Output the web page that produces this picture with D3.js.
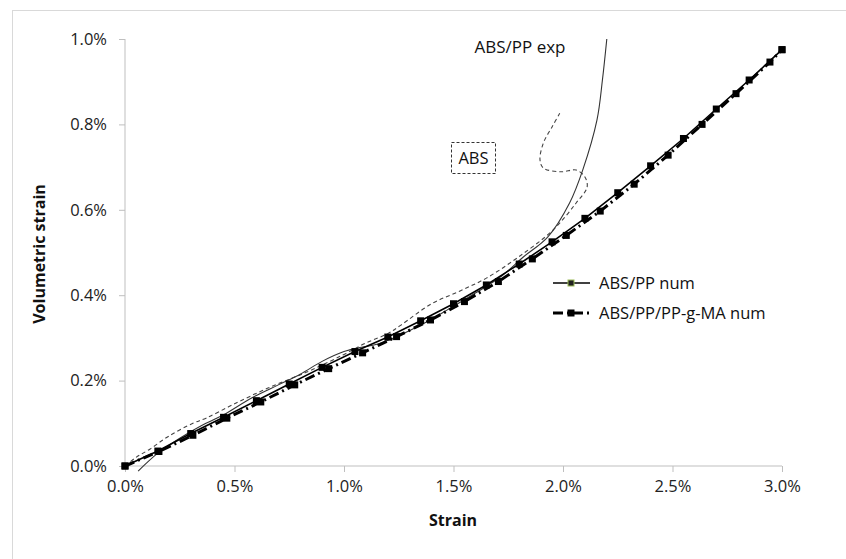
<!DOCTYPE html>
<html><head><meta charset="utf-8">
<script src="https://cdn.jsdelivr.net/npm/d3@7/dist/d3.min.js"></script>
<style>body{margin:0;background:#fff}svg{display:block}text{font-family:"Open Sans","Noto Sans",sans-serif}</style>
</head><body><svg id="c" width="846" height="559"></svg>
<script>
const xTicks = [0, 0.5, 1.0, 1.5, 2.0, 2.5, 3.0];
const yTicks = [0, 0.2, 0.4, 0.6, 0.8, 1.0];

const numX = [0,0.15,0.30,0.45,0.60,0.75,0.90,1.05,1.20,1.35,1.50,1.65,1.80,1.95,2.10,2.25,2.40,2.55,2.70,2.85,3.00];
const numY = [0,0.035,0.076,0.114,0.153,0.192,0.231,0.268,0.302,0.340,0.380,0.424,0.473,0.525,0.580,0.640,0.703,0.767,0.836,0.904,0.975];

const maX = [0,0.155,0.31,0.465,0.62,0.775,0.93,1.085,1.24,1.395,1.55,1.705,1.86,2.015,2.17,2.325,2.48,2.635,2.79,2.945,3.0];
const maY = [0,0.034,0.072,0.112,0.150,0.190,0.228,0.265,0.303,0.342,0.385,0.432,0.485,0.540,0.597,0.660,0.728,0.800,0.872,0.946,0.975];

const expX = [0.06,0.15,0.25,0.35,0.45,0.58,0.70,0.80,0.90,1.00,1.08,1.15,1.25,1.35,1.47,1.60,1.72,1.82,1.93,2.03,2.09,2.155,2.18,2.20];
const expY = [-0.012,0.03,0.065,0.095,0.12,0.16,0.19,0.215,0.245,0.268,0.278,0.285,0.305,0.33,0.365,0.405,0.445,0.49,0.536,0.616,0.693,0.81,0.904,1.0];

const absX = [0,0.05,0.115,0.2,0.31,0.37,0.49,0.65,0.83,0.995,1.10,1.20,1.26,1.40,1.53,1.65,1.79,1.955,2.06,2.11,2.10,2.06,1.99,1.91,1.895,1.91,1.95,1.985];
const absY = [0,0.02,0.04,0.07,0.10,0.112,0.143,0.182,0.22,0.26,0.288,0.31,0.33,0.38,0.41,0.44,0.487,0.553,0.616,0.653,0.677,0.693,0.689,0.698,0.717,0.756,0.794,0.826];

const svg = d3.select("#c");
const x = d3.scaleLinear().domain([0,3]).range([125,782]);
const y = d3.scaleLinear().domain([0,1]).range([466,39]);
const grey = "#bfbfbf";

svg.append("rect").attr("x",12.5).attr("y",10.5).attr("width",900).attr("height",600)
  .attr("fill","none").attr("stroke","#d9d9d9");

// axes
const xa = svg.append("g").attr("transform","translate(0,466)")
  .call(d3.axisBottom(x).tickValues(xTicks).tickSize(6).tickPadding(8).tickFormat(d=>d.toFixed(1)+"%"));
const ya = svg.append("g").attr("transform","translate(125,0)")
  .call(d3.axisLeft(y).tickValues(yTicks).tickSize(6).tickPadding(12).tickFormat(d=>d.toFixed(1)+"%"));
[xa,ya].forEach(a=>{
  a.select(".domain").attr("stroke",grey);
  a.selectAll(".tick line").attr("stroke",grey);
  a.selectAll(".tick text").attr("font-size",16.5).attr("fill","#222");
});
xa.select(".domain").attr("d","M125,0H782");
ya.select(".domain").attr("d","M0,39V466");

svg.append("text").attr("x",453).attr("y",526).attr("text-anchor","middle")
  .attr("font-size",16).attr("font-weight","bold").attr("fill","#111").text("Strain");
svg.append("text").attr("transform","translate(45,254) rotate(-90)").attr("text-anchor","middle")
  .attr("font-size",16).attr("font-weight","bold").attr("fill","#111").text("Volumetric strain");

const zip = (a,b)=>a.map((v,i)=>[v,b[i]]);
const lineC = d3.line().x(d=>x(d[0])).y(d=>y(d[1])).curve(d3.curveCatmullRom.alpha(0.5));
const lineL = d3.line().x(d=>x(d[0])).y(d=>y(d[1]));

// experimental curves
svg.append("path").attr("d",lineC(zip(absX,absY))).attr("fill","none")
  .attr("stroke","#444").attr("stroke-width",1.1).attr("stroke-dasharray","4,3");
svg.append("path").attr("d",lineC(zip(expX,expY))).attr("fill","none")
  .attr("stroke","#333").attr("stroke-width",1.1);

// numerical series
svg.append("path").attr("d",lineL(zip(maX,maY))).attr("fill","none")
  .attr("stroke","#000").attr("stroke-width",3).attr("stroke-dasharray","10,4,2,4");
svg.append("g").selectAll("rect").data(zip(maX,maY)).join("rect")
  .attr("x",d=>x(d[0])-3.5).attr("y",d=>y(d[1])-3.5).attr("width",7).attr("height",7).attr("fill","#000");

svg.append("path").attr("d",lineL(zip(numX,numY))).attr("fill","none")
  .attr("stroke","#000").attr("stroke-width",1.6);
svg.append("g").selectAll("rect").data(zip(numX,numY)).join("rect")
  .attr("x",d=>x(d[0])-3.5).attr("y",d=>y(d[1])-3.5).attr("width",7).attr("height",7).attr("fill","#000");

// annotations
svg.append("text").attr("x",520).attr("y",53).attr("text-anchor","middle")
  .attr("font-size",17).attr("fill","#111").text("ABS/PP exp");
svg.append("rect").attr("x",451.5).attr("y",142.5).attr("width",44).attr("height",31)
  .attr("fill","none").attr("stroke","#333").attr("stroke-dasharray","3,2");
svg.append("text").attr("x",473.5).attr("y",164).attr("text-anchor","middle")
  .attr("font-size",16.5).attr("fill","#111").text("ABS");

// legend
const lg = svg.append("g");
lg.append("line").attr("x1",553).attr("x2",590).attr("y1",283).attr("y2",283).attr("stroke","#000").attr("stroke-width",1.6);
lg.append("rect").attr("x",568).attr("y",280).attr("width",6).attr("height",6).attr("fill","#222").attr("stroke","#9bbb59").attr("stroke-width",1);
lg.append("text").attr("x",599).attr("y",289).attr("font-size",16.5).attr("fill","#111").text("ABS/PP num");
lg.append("line").attr("x1",553).attr("x2",590).attr("y1",313).attr("y2",313).attr("stroke","#000").attr("stroke-width",3).attr("stroke-dasharray","10,4,2,4");
lg.append("rect").attr("x",567.5).attr("y",309.5).attr("width",7).attr("height",7).attr("fill","#000");
lg.append("text").attr("x",599).attr("y",319).attr("font-size",16.5).attr("fill","#111").text("ABS/PP/PP-g-MA num");
</script></body></html>
